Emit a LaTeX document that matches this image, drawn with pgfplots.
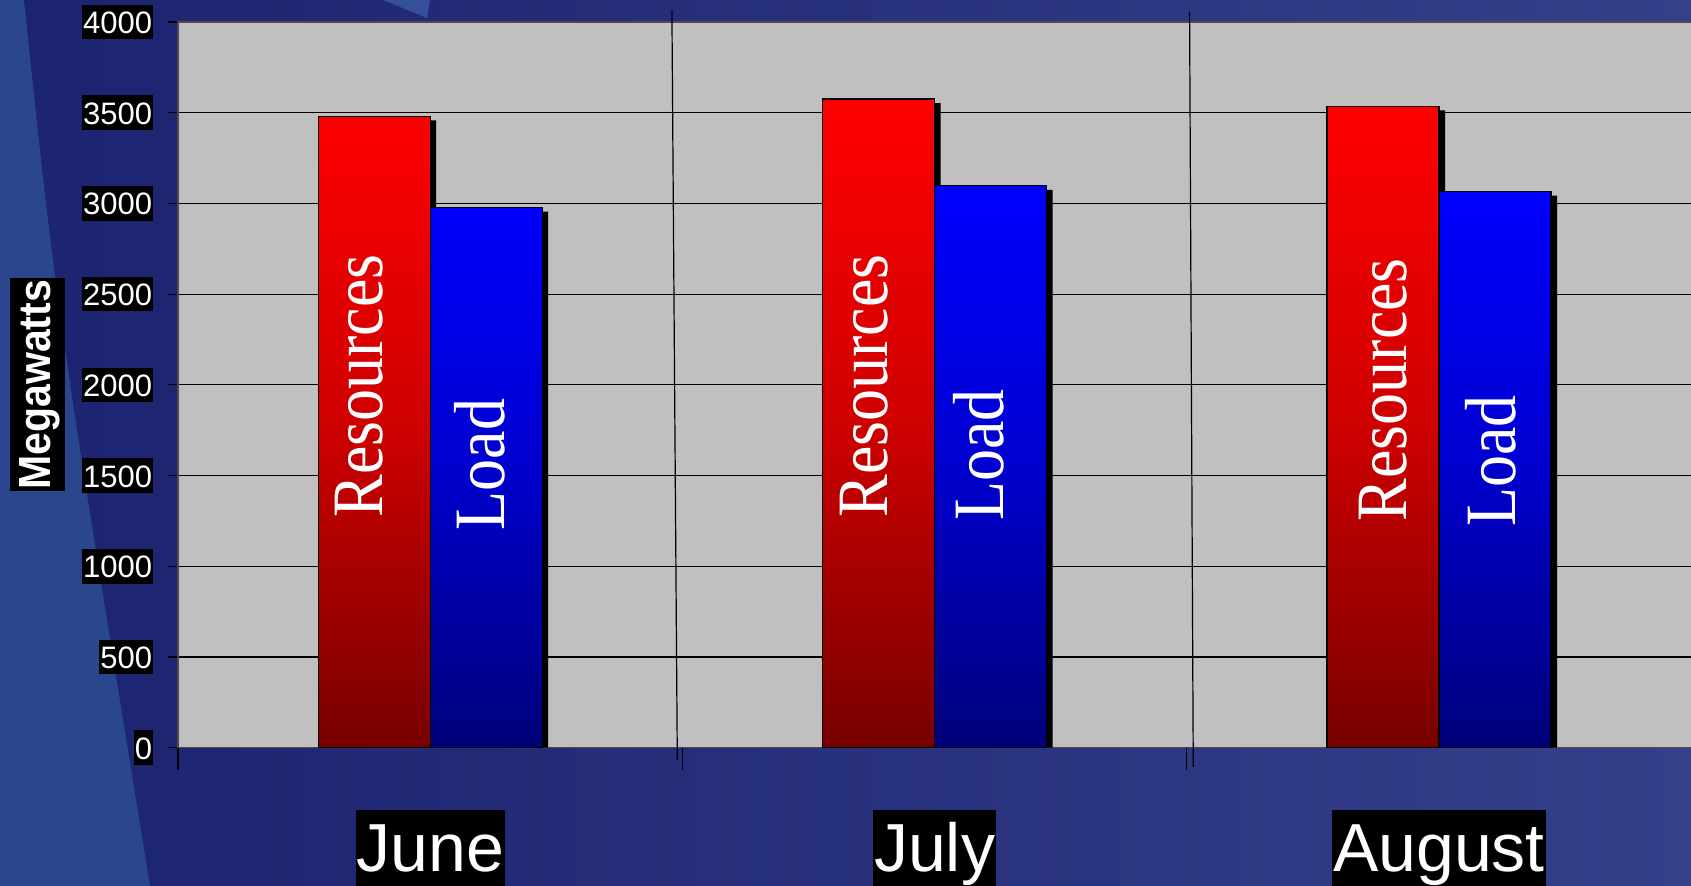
\documentclass[border=0pt]{standalone}
\usepackage{pgfplots}
\usepackage{pgfplotstable}
\pgfplotsset{compat=1.18}
\usepackage{fontspec}
\setmainfont{Liberation Serif}
\setsansfont{Liberation Sans}
\definecolor{bgleft}{HTML}{1C2370}
\definecolor{bgright}{HTML}{353F8A}
\definecolor{swoosh}{HTML}{2A478E}
\definecolor{wedge}{HTML}{34509A}
\definecolor{plotgray}{HTML}{C0C0C0}

% values (MW)
\pgfplotstableread{
x  res   load
0  3480  2977
1  3575  3097
2  3535  3065
}\mwdata
\pgfplotstableread{
x  res   load
0  3458  2955
1  3553  3075
2  3513  3043
}\shadowdata

\begin{document}
\begin{tikzpicture}
  \useasboundingbox (0,0) rectangle (845.5pt,443pt);
  \clip (0,0) rectangle (845.5pt,443pt);
  % slide background
  \shade[left color=bgleft, right color=bgright] (0,0) rectangle (845.5pt,443pt);
  \fill[swoosh] (0,443pt) -- (12pt,443pt) .. controls (28pt,290pt) .. (75pt,0) -- (0,0) -- cycle;
  \fill[wedge] (191.5pt,443pt) -- (215pt,443pt) -- (213.5pt,434pt) -- cycle;

  \begin{axis}[
    at={(89pt,69.15pt)}, anchor=south west,
    scale only axis, width=756.6pt, height=362.85pt,
    xmin=-0.5, xmax=2.5, ymin=0, ymax=4000,
    clip=false,
    axis background/.style={fill=plotgray},
    axis line style={black!70, line width=0.6pt},
    ymajorgrids, grid style={black, line width=0.6pt},
    tick pos=left, tick align=outside,
    major tick length=5pt, tick style={black, line width=0.6pt},
    ytick={0,500,...,4000},
    /pgf/number format/1000 sep={},
    /pgf/number format/assume math mode=true,
    yticklabel style={anchor=east, xshift=-7.2pt, fill=black, text=white,
      font=\sffamily\fontsize{15.5}{18}\selectfont,
      text height=14.4pt, text depth=2.9pt, inner xsep=0.5pt, inner ysep=0pt},
    xtick=\empty,
    extra x ticks={0,1,2}, extra x tick labels={June,July,August},
    extra x tick style={major tick length=0pt, tick style={draw=none}},
    xticklabel style={anchor=north, yshift=-31.15pt, fill=black, text=white,
      font=\sffamily\fontsize{34}{40}\selectfont,
      text height=30.7pt, text depth=12pt, inner xsep=0.4pt, inner ysep=0pt},
  ]
    % drop shadows
    \addplot[ybar, bar width=56pt, bar shift=-25pt, fill=black, draw=none]
      table[x=x, y=res] {\shadowdata};
    \addplot[ybar, bar width=56pt, bar shift=31pt, fill=black, draw=none]
      table[x=x, y=load] {\shadowdata};
    % bars
    \addplot[ybar, bar width=56pt, bar shift=-28pt, draw=black, line width=0.6pt,
      top color=red, bottom color=red!47!black, middle color=red!81!black]
      table[x=x, y=res] {\mwdata};
    \addplot[ybar, bar width=56pt, bar shift=28pt, draw=black, line width=0.6pt,
      top color=blue, bottom color=blue!47!black, middle color=blue!81!black]
      table[x=x, y=load] {\mwdata};

    % category separators and boundary ticks
    \draw[black, line width=0.6pt] (axis cs:0.4792,4062) -- (axis cs:0.4899,-69);
    \draw[black, line width=0.6pt] (axis cs:1.5055,4057) -- (axis cs:1.5128,-106);
    \draw[black, line width=0.6pt] (axis cs:-0.5,0) -- (axis cs:-0.5,-124);
    \draw[black, line width=0.6pt] (axis cs:0.5,0) -- (axis cs:0.5,-124);
    \draw[black, line width=0.6pt] (axis cs:1.5,0) -- (axis cs:1.5,-124);
    \draw[black, line width=0.6pt] (axis cs:2.5,0) -- (axis cs:2.5,-124);

    % series names written in the bars
    \begin{scope}[every node/.style={text=white, rotate=90, yscale=1.13,
        anchor=base, inner sep=0pt, font=\fontsize{32}{36}\selectfont}]
      \node at (axis cs:-0.0937,1994) {Resources};
      \node at (axis cs:0.148,1561) {Load};
      \node at (axis cs:0.907,1994) {Resources};
      \node at (axis cs:1.136,1614) {Load};
      \node at (axis cs:1.935,1973) {Resources};
      \node at (axis cs:2.151,1579) {Load};
    \end{scope}
  \end{axis}

  \node[rotate=90, yscale=1.1, anchor=center, fill=black, text=white,
    font=\sffamily\bfseries\fontsize{20.5}{24}\selectfont,
    text height=18.5pt, text depth=6.8pt, inner xsep=0.9pt, inner ysep=0pt]
    at (18.75pt,250.6pt) {Megawatts};
\end{tikzpicture}
\end{document}
